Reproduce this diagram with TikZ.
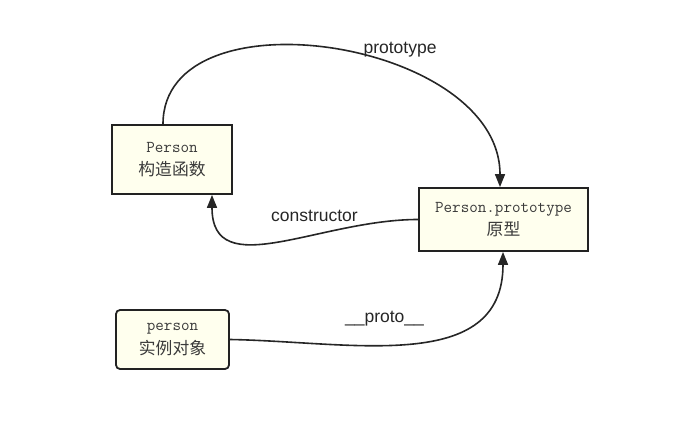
\documentclass[tikz,border=0pt]{standalone}
\usepackage{fontspec}
\setmainfont{Liberation Sans}
\newfontfamily\cjk{Noto Sans CJK SC}
\usetikzlibrary{arrows.meta}
\definecolor{boxfill}{HTML}{FFFFEE}
\definecolor{boxline}{HTML}{222222}
\definecolor{edgecol}{HTML}{262626}
\definecolor{txt}{HTML}{3A3A3A}
\tikzset{
  objbox/.style={draw=boxline, line width=1.8pt, fill=boxfill, inner sep=0pt,
    align=center, text=txt, font=\fontsize{15}{23.5}\selectfont},
  link/.style={draw=edgecol, line width=1.6pt, -{Triangle[length=13pt,width=10pt]}},
  lbl/.style={font=\fontsize{17.5}{20}\selectfont, text=black!85, anchor=base, inner sep=0pt}
}
\newcommand{\mo}[1]{{\ttfamily\fontsize{16.6}{23.5}\selectfont #1}}
\newcommand{\zh}[1]{{\cjk\fontsize{16.8}{23.5}\selectfont #1}}
\begin{document}
\begin{tikzpicture}[x=1pt,y=1pt]
\useasboundingbox (0,0) rectangle (690,426);
\node[objbox, minimum width=120pt, minimum height=69pt] (ctor) at (172,266.5) {\mo{Person}\\\zh{构造函数}};
\node[objbox, minimum width=169pt, minimum height=63pt] (proto) at (503.5,206.5) {\mo{Person.prototype}\\\zh{原型}};
\node[objbox, rounded corners=4pt, minimum width=113pt, minimum height=59pt] (inst) at (172.5,86.5) {\mo{person}\\\zh{实例对象}};

\draw[link] ([xshift=-9pt]ctor.north) .. controls +(0,135) and +(0,148) .. ([xshift=-3.5pt]proto.north);
\draw[link] (proto.west) .. controls +(-99,0) and +(0,-89) .. ([xshift=40pt]ctor.south);
\draw[link] (inst.east) .. controls +(121,-2) and +(0,-123) .. ([xshift=-0.5pt]proto.south);

\node[lbl] (l1) at (400,372.7) {prototype};
\node[lbl] (l2) at (314.5,204.3) {constructor};
\node[lbl] (l3) at (384.5,104) {\_\_proto\_\_};
\end{tikzpicture}
\end{document}
